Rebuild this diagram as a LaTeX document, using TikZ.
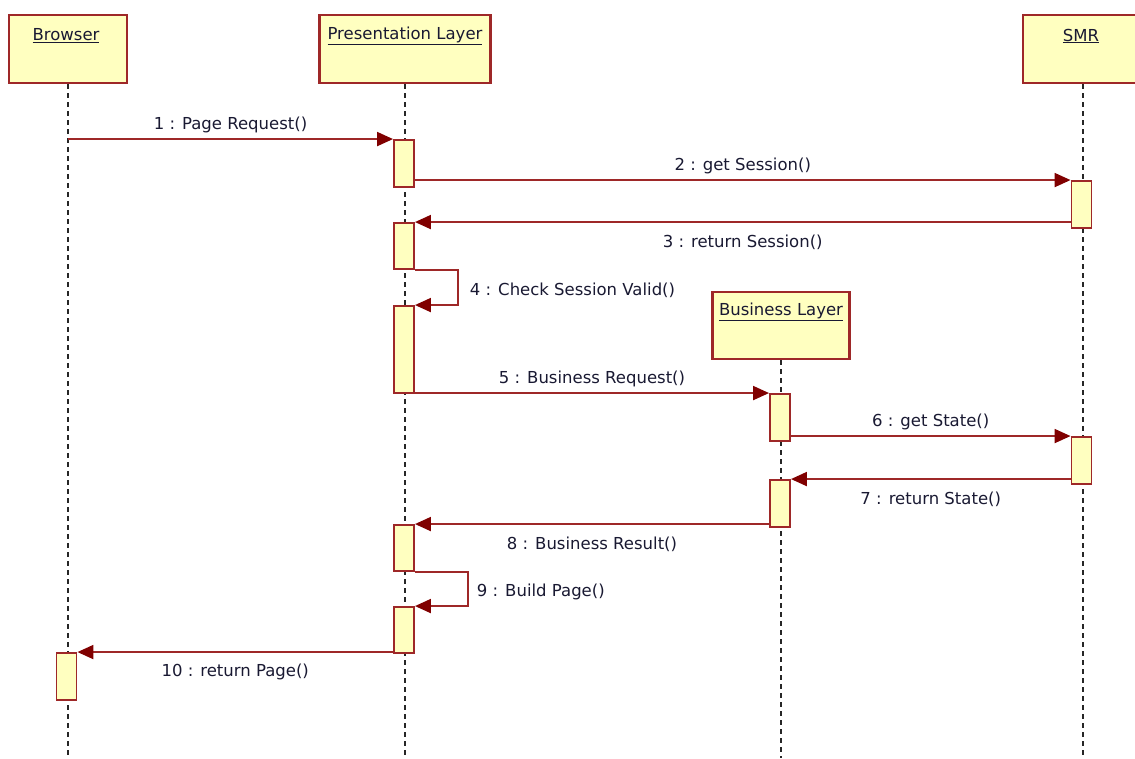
\documentclass[tikz,border=0pt]{standalone}
\usepackage{fontspec}
\setmainfont{DejaVu Sans}
\usetikzlibrary{arrows.meta}
\definecolor{umlfill}{RGB}{255,255,192}
\definecolor{umlline}{RGB}{158,40,40}
\definecolor{umltip}{RGB}{128,0,0}
\definecolor{umltext}{RGB}{25,25,50}

\begin{document}
\begin{tikzpicture}[x=1pt,y=-1pt,
  every node/.style={font=\fontsize{16.5}{20}\selectfont, text=umltext},
  objbox/.style={draw=umlline, line width=2.2pt, fill=umlfill, inner sep=0pt},
  actbar/.style={draw=umlline, line width=1.9pt, fill=umlfill, inner sep=0pt,
                 minimum width=20pt},
  lifeline/.style={dash pattern=on 5pt off 4pt, line width=1.6pt, black!85},
  msg/.style={draw=umlline, line width=2pt,
              -{Triangle[length=16pt,width=14pt,color=umltip]}},
  lblabove/.style={midway, yshift=14pt, inner sep=0pt},
  lblbelow/.style={midway, yshift=-20pt, inner sep=0pt},
  lblself/.style={pos=0.25, anchor=west, yshift=-3pt, inner sep=0pt},
  headtext/.style={inner sep=0pt},
]
\useasboundingbox (0,0) rectangle (1135,758);

% object heads
\node[objbox, minimum width=118pt, minimum height=68pt] (browser) at (68,49) {};
\node[objbox, minimum width=171pt, minimum height=68pt] (pres) at (405,49) {};
\node[objbox, minimum width=120pt, minimum height=68pt] (smr) at (1083,49) {};
\node[objbox, minimum width=137pt, minimum height=67pt] (bus) at (781,325.5) {};

\node[headtext] (browsert) at (66,36) {\underline{Browser}};
\node[headtext] (prest) at (405,36) {\underline{Presentation Layer}};
\node[headtext] (smrt) at (1081,36) {\underline{SMR}};
\node[headtext] (bust) at (781,312) {\underline{Business Layer}};

% lifelines
\coordinate (browserend) at (68,758);
\coordinate (presend) at (405,758);
\coordinate (smrend) at (1083,758);
\coordinate (busend) at (781,758);
\draw[lifeline] (browser.south) -- (browserend);
\draw[lifeline] (pres.south) -- (presend);
\draw[lifeline] (smr.south) -- (smrend);
\draw[lifeline] (bus.south) -- (busend);

% activation bars
\node[actbar, minimum height=47pt] (p1) at (404,163.5) {};
\node[actbar, minimum height=46pt] (p2) at (404,246) {};
\node[actbar, minimum height=87pt] (p3) at (404,349.5) {};
\node[actbar, minimum height=46pt] (p4) at (404,548) {};
\node[actbar, minimum height=46pt] (p5) at (404,630) {};
\node[actbar, minimum height=47pt] (s1) at (1081.5,204.5) {};
\node[actbar, minimum height=47pt] (s2) at (1081.5,460.5) {};
\node[actbar, minimum height=47pt] (b1) at (780,417.5) {};
\node[actbar, minimum height=47pt] (b2) at (780,503.5) {};
\node[actbar, minimum height=47pt] (w1) at (66.5,676.5) {};

% messages
\draw[msg] (browser.south |- p1.north) -- (p1.north west)
  node[lblabove] (m1) {1 : Page Request()};
\draw[msg] (p1.east |- s1.north) -- (s1.north west)
  node[lblabove] (m2) {2 : get Session()};
\draw[msg] (s1.west |- p2.north) -- (p2.north east)
  node[lblbelow] (m3) {3 : return Session()};
\draw[msg] (p2.south east) -- ++(43,0) |- (p3.north east)
  node[lblself, xshift=11pt] (m4) {4 : Check Session Valid()};
\draw[msg] (p3.east |- b1.north) -- (b1.north west)
  node[lblabove] (m5) {5 : Business Request()};
\draw[msg] (b1.east |- s2.north) -- (s2.north west)
  node[lblabove] (m6) {6 : get State()};
\draw[msg] (s2.west |- b2.north) -- (b2.north east)
  node[lblbelow] (m7) {7 : return State()};
\draw[msg] (b2.west |- p4.north) -- (p4.north east)
  node[lblbelow] (m8) {8 : Business Result()};
\draw[msg] (p4.south east) -- ++(53,0) |- (p5.north east)
  node[lblself, xshift=8pt] (m9) {9 : Build Page()};
\draw[msg] (p5.west |- w1.north) -- (w1.north east)
  node[lblbelow] (m10) {10 : return Page()};
\end{tikzpicture}
\end{document}
